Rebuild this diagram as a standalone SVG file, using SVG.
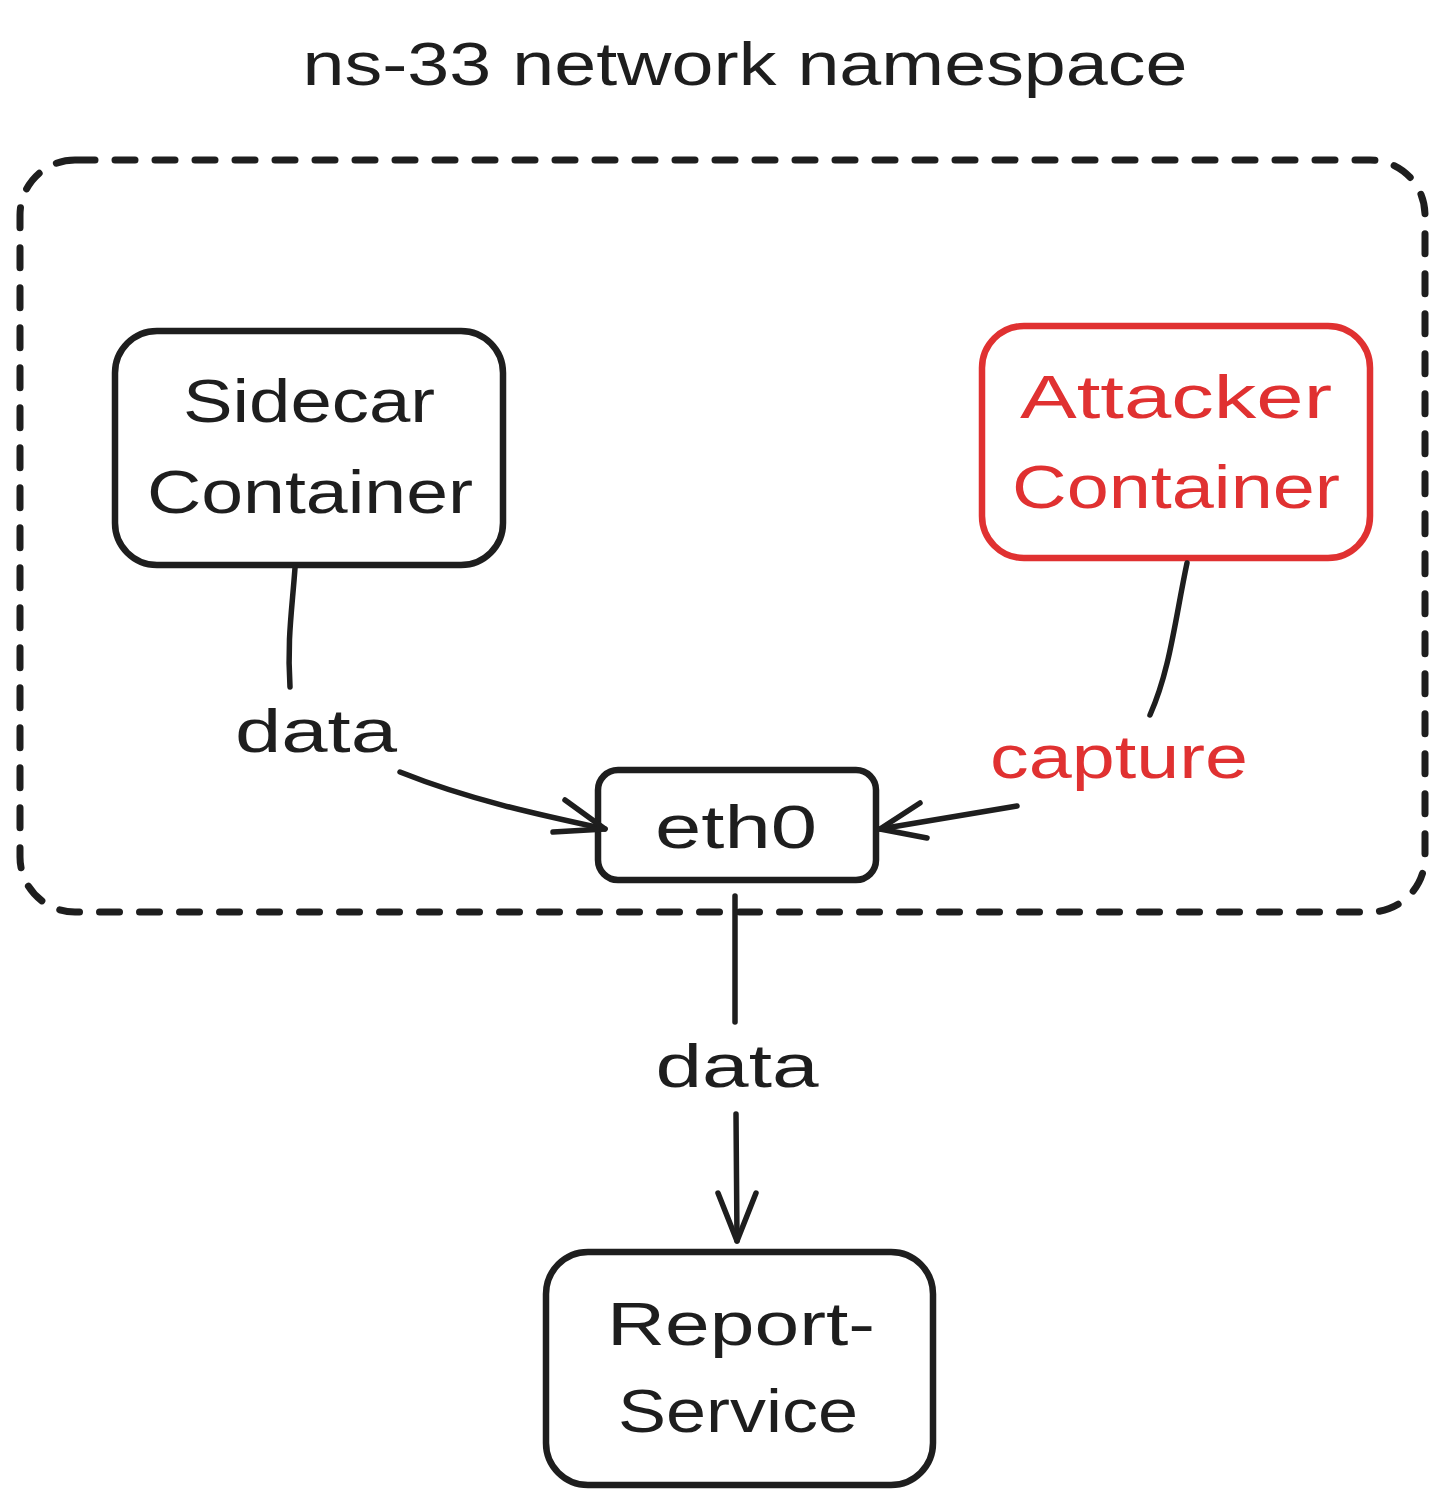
<svg xmlns="http://www.w3.org/2000/svg" width="1445" height="1505" viewBox="0 0 1445 1505">
<style>
.t{font-family:"Liberation Sans","Noto Sans",sans-serif;font-size:62px;text-anchor:middle;fill:#1e1e1e}
.r{fill:#e03131}
.box{fill:none;stroke:#1e1e1e;stroke-width:6.5;stroke-linejoin:round}
.red{stroke:#e03131}
.ln{fill:none;stroke:#1e1e1e;stroke-width:5.5;stroke-linecap:round;stroke-linejoin:round}
.dash{fill:none;stroke:#1e1e1e;stroke-width:7;stroke-linecap:round;stroke-dasharray:20 20}
</style>
<rect width="1445" height="1505" fill="#ffffff"/>
<g id="title">
<text class="t" x="745" y="85" font-size="64" textLength="885" lengthAdjust="spacingAndGlyphs">ns-33 network namespace</text>
</g>
<g id="namespace">
<rect class="dash" x="20" y="160" width="1405" height="752" rx="55"/>
</g>
<g id="sidecar">
<rect class="box" x="115" y="331" width="388" height="234" rx="42"/>
<text class="t" x="309" y="422" textLength="252" lengthAdjust="spacingAndGlyphs">Sidecar</text>
<text class="t" x="310" y="513" textLength="326" lengthAdjust="spacingAndGlyphs">Container</text>
</g>
<g id="attacker">
<rect class="box red" x="982" y="326" width="388" height="232" rx="42"/>
<text class="t r" x="1176" y="418" textLength="312" lengthAdjust="spacingAndGlyphs">Attacker</text>
<text class="t r" x="1176" y="508" textLength="328" lengthAdjust="spacingAndGlyphs">Container</text>
</g>
<g id="eth0">
<rect class="box" x="598" y="770" width="278" height="110" rx="20"/>
<text class="t" x="736" y="848" textLength="162" lengthAdjust="spacingAndGlyphs">eth0</text>
</g>
<g id="report">
<rect class="box" x="546" y="1252" width="387" height="233" rx="42"/>
<text class="t" x="741" y="1345" textLength="268" lengthAdjust="spacingAndGlyphs">Report-</text>
<text class="t" x="738" y="1432" textLength="240" lengthAdjust="spacingAndGlyphs">Service</text>
</g>
<g id="connectors">
<path class="ln" d="M295 568 C292 610 287 640 290 687"/>
<path class="ln" d="M400 772 C470 800 540 815 605 829"/>
<path class="ln" d="M565 800 L605 829 L553 832"/>
<path class="ln red" d="M1187 563 C1175 620 1170 670 1150 715"/>
<path class="ln red" d="M1017 806 L880 829"/>
<path class="ln red" d="M920 803 L880 829 L927 838"/>
<path class="ln" d="M735 896 L735 1022"/>
<path class="ln" d="M736 1114 L737 1241"/>
<path class="ln" d="M718 1193 L737 1241 L756 1193"/>
<text class="t" x="316" y="752" textLength="162" lengthAdjust="spacingAndGlyphs">data</text>
<text class="t r" x="1119" y="778" textLength="258" lengthAdjust="spacingAndGlyphs">capture</text>
<text class="t" x="737" y="1087" textLength="163" lengthAdjust="spacingAndGlyphs">data</text>
</g>
</svg>
